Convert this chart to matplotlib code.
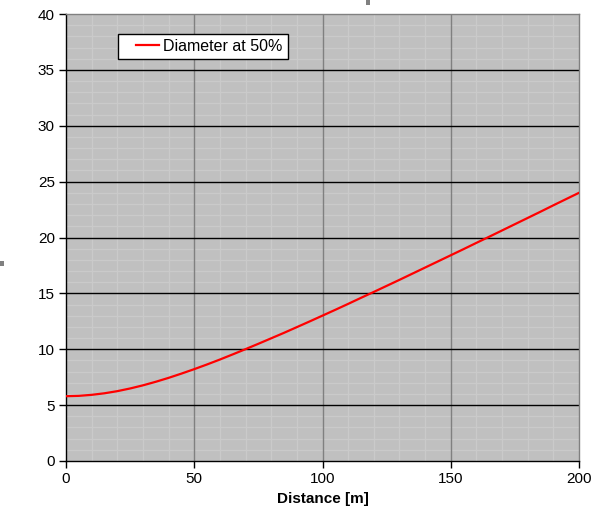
import matplotlib
matplotlib.use("Agg")
import matplotlib.pyplot as plt
from matplotlib.patches import Rectangle
from matplotlib.ticker import MultipleLocator

plt.rcParams['font.family'] = ['Liberation Sans', 'DejaVu Sans']

# values
distance = [0, 5, 10, 15, 20, 25, 30, 35, 40, 45, 50,
            55, 60, 65, 70, 75, 80, 85, 90, 95, 100,
            105, 110, 115, 120, 125, 130, 135, 140, 145, 150,
            155, 160, 165, 170, 175, 180, 185, 190, 195, 200]
diameter = [5.80, 5.83, 5.92, 6.06, 6.25, 6.49, 6.77, 7.09, 7.44, 7.82, 8.22,
            8.64, 9.08, 9.54, 10.01, 10.49, 10.98, 11.47, 11.98, 12.49, 13.01,
            13.53, 14.06, 14.60, 15.13, 15.67, 16.21, 16.76, 17.31, 17.86, 18.41,
            18.96, 19.52, 20.07, 20.63, 21.19, 21.75, 22.31, 22.88, 23.44, 24.00]
series_label = "Diameter at 50%"

fig = plt.figure(figsize=(6.05, 5.15), dpi=100)
ax = fig.add_axes([66 / 605, 1 - 461 / 515, 513 / 605, 447 / 515])
ax.set_facecolor("#C0C0C0")

ax.plot(distance, diameter, color="#FF0000", lw=1.6, label=series_label, zorder=3)

ax.set_xlim(0, 200)
ax.set_ylim(0, 40)
ax.xaxis.set_major_locator(MultipleLocator(50))
ax.xaxis.set_minor_locator(MultipleLocator(10))
ax.yaxis.set_major_locator(MultipleLocator(5))
ax.yaxis.set_minor_locator(MultipleLocator(1))

# light minor grid, then the major lines on top of it
ax.grid(which="minor", color="#CACACA", lw=0.9)
ax.set_axisbelow(True)
for xv in ax.get_xticks():
    if 0 < xv < 200:
        ax.axvline(xv, color="#808080", lw=1.0, zorder=0.8)
for yv in ax.get_yticks():
    if 0 < yv < 40:
        ax.axhline(yv, color="black", lw=1.0, zorder=0.9)

ax.tick_params(which="major", direction="out", length=5, width=1,
               labelsize=11, colors="black", pad=3)
ax.tick_params(which="minor", length=0)
for side in ("left", "bottom"):
    ax.spines[side].set_color("black")
    ax.spines[side].set_linewidth(1)
for side in ("top", "right"):
    ax.spines[side].set_color("#808080")
    ax.spines[side].set_linewidth(1)

ax.set_xlabel("Distance [m]", fontsize=11, fontweight="bold", labelpad=4)

leg = ax.legend(loc="upper left", bbox_to_anchor=(0.101, 0.955), fontsize=11.5,
                frameon=True, fancybox=False, framealpha=1, edgecolor="black",
                handlelength=2.25, handletextpad=0.3, borderpad=0.3,
                borderaxespad=0)
leg.get_frame().set_linewidth(1)
hl = leg.get_lines()[0]
xd = hl.get_xdata()
yd = hl.get_ydata()
x0, x1 = xd[0], xd[-1]
hl.set_data([x0 + (x1 - x0) * 0.36, x1], [yd[0], yd[-1]])

# little grey handle marks at the edges of the picture
fig.add_artist(Rectangle((366 / 605, 1 - 5 / 515), 4 / 605, 5 / 515,
                         transform=fig.transFigure, color="#808080", lw=0))
fig.add_artist(Rectangle((0, 1 - 266 / 515), 4 / 605, 5 / 515,
                         transform=fig.transFigure, color="#808080", lw=0))

fig.savefig("out.png", dpi=100)
